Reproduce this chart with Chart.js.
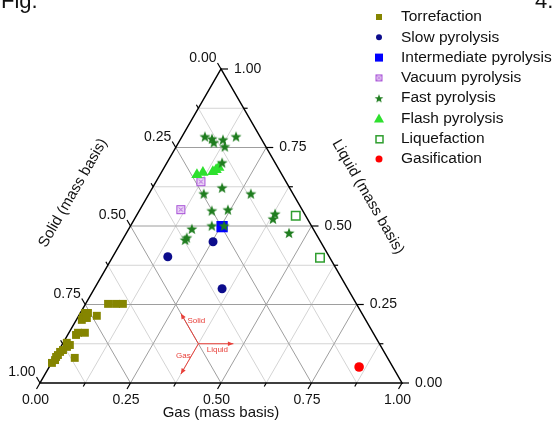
<!DOCTYPE html>
<html>
<head>
<meta charset="utf-8">
<script src="https://cdn.jsdelivr.net/npm/chart.js@4.4.1/dist/chart.umd.min.js"></script>
<style>
body { margin: 0; background: #fff; }
canvas { display: block; }
</style>
</head>
<body>
<canvas id="myChart" width="553" height="431"></canvas>
<script>
// each point is [solid, liquid, gas] (mass fractions)
var torrefaction = [
    [0.686, 0.252, 0.062], [0.664, 0.252, 0.084], [0.645, 0.252, 0.103],
    [0.764, 0.223, 0.013], [0.756, 0.223, 0.021], [0.776, 0.211, 0.013],
    [0.784, 0.201, 0.015], [0.767, 0.207, 0.026], [0.736, 0.214, 0.050],
    [0.815, 0.160, 0.025], [0.796, 0.160, 0.044], [0.824, 0.153, 0.023],
    [0.857, 0.121, 0.022], [0.868, 0.115, 0.017], [0.884, 0.105, 0.011],
    [0.862, 0.128, 0.010], [0.895, 0.099, 0.006], [0.906, 0.089, 0.005],
    [0.914, 0.083, 0.003], [0.922, 0.073, 0.005], [0.935, 0.064, 0.001],
    [0.864, 0.080, 0.056]
];
var slowPyrolysis = [[0.446, 0.402, 0.152], [0.297, 0.450, 0.253], [0.347, 0.300, 0.353]];
var intermediatePyrolysis = [[0.248, 0.498, 0.254]];
var vacuumPyrolysis = [[0.235, 0.641, 0.124], [0.335, 0.552, 0.113]];
var fastPyrolysis = [
    [0.152, 0.785, 0.063], [0.136, 0.778, 0.086], [0.137, 0.766, 0.097],
    [0.107, 0.775, 0.118], [0.066, 0.785, 0.149], [0.113, 0.753, 0.134],
    [0.146, 0.702, 0.152], [0.186, 0.622, 0.192], [0.246, 0.603, 0.151],
    [0.116, 0.603, 0.281], [0.251, 0.549, 0.200], [0.205, 0.552, 0.243],
    [0.275, 0.501, 0.224], [0.241, 0.501, 0.258], [0.335, 0.491, 0.174],
    [0.363, 0.463, 0.174], [0.371, 0.456, 0.173], [0.081, 0.539, 0.380],
    [0.095, 0.523, 0.382], [0.073, 0.478, 0.449]
];
var flashPyrolysis = [[0.235, 0.663, 0.102], [0.215, 0.670, 0.115], [0.186, 0.673, 0.141], [0.174, 0.679, 0.147], [0.163, 0.686, 0.151]];
var liquefaction = [[0.027, 0.533, 0.440], [0.027, 0.399, 0.574]];
var gasification = [[0.093, 0.051, 0.856]];

var SERIES_NAMES = ['Torrefaction', 'Slow pyrolysis', 'Intermediate pyrolysis', 'Vacuum pyrolysis',
                    'Fast pyrolysis', 'Flash pyrolysis', 'Liquefaction', 'Gasification'];
var TICK_LABELS = ['0.00', '0.25', '0.50', '0.75', '1.00'];
var AXIS_TITLES = ['Solid (mass basis)', 'Liquid (mass basis)', 'Gas (mass basis)'];

var H = Math.sqrt(3) / 2;
var FONT = '"Liberation Sans", Arial, sans-serif';

function toXY(p) {
    var t = p[0] + p[1] + p[2];
    return { x: (p[2] + p[1] / 2) / t, y: p[1] * H / t };
}

function starCanvas(r, color) {
    var c = document.createElement('canvas');
    var size = Math.ceil(2 * r + 2);
    c.width = c.height = size;
    var g = c.getContext('2d');
    g.translate(size / 2, size / 2 + 0.5);
    g.beginPath();
    for (var i = 0; i < 10; i++) {
        var rr = i % 2 ? r * 0.42 : r;
        var a = -Math.PI / 2 + i * Math.PI / 5;
        g.lineTo(rr * Math.cos(a), rr * Math.sin(a));
    }
    g.closePath();
    g.fillStyle = color;
    g.fill();
    return c;
}

function vacuumCanvas(side) {
    var c = document.createElement('canvas');
    c.width = c.height = side + 2;
    var g = c.getContext('2d');
    g.fillStyle = '#ecd6f7';
    g.fillRect(1, 1, side, side);
    g.strokeStyle = '#a64fd6';
    g.lineWidth = 1;
    g.strokeRect(1.5, 1.5, side - 1, side - 1);
    var m = (side + 2) / 2;
    g.beginPath();
    g.moveTo(m - 2, m - 2); g.lineTo(m + 2, m + 2);
    g.moveTo(m + 2, m - 2); g.lineTo(m - 2, m + 2);
    g.stroke();
    return c;
}

var STAR = starCanvas(5.8, '#1f7d1f');
var STAR_SMALL = starCanvas(4.6, '#1f7d1f');
var VAC = vacuumCanvas(9);
var VAC_SMALL = vacuumCanvas(7);

var ternaryAxes = {
    id: 'ternaryAxes',
    beforeDatasetsDraw: function(chart) {
        var ctx = chart.ctx, xs = chart.scales.x, ys = chart.scales.y;
        function pt(s, l, g) {
            var c = toXY([s, l, g]);
            return { x: xs.getPixelForValue(c.x), y: ys.getPixelForValue(c.y) };
        }
        function line(a, b) {
            ctx.beginPath(); ctx.moveTo(a.x, a.y); ctx.lineTo(b.x, b.y); ctx.stroke();
        }
        ctx.save();
        ctx.lineWidth = 1;
        // minor grid, then major grid
        [1, 0].forEach(function(odd) {
            ctx.strokeStyle = odd ? '#d4d4d4' : '#9e9e9e';
            for (var k = 1; k < 8; k++) {
                if (k % 2 !== odd) continue;
                var v = k / 8;
                line(pt(1 - v, v, 0), pt(0, v, 1 - v));
                line(pt(1 - v, 0, v), pt(0, 1 - v, v));
                line(pt(v, 0, 1 - v), pt(v, 1 - v, 0));
            }
        });
        // triangle
        var S = pt(1, 0, 0), L = pt(0, 1, 0), G = pt(0, 0, 1);
        ctx.strokeStyle = '#000';
        ctx.lineWidth = 1.5;
        ctx.beginPath();
        ctx.moveTo(S.x, S.y); ctx.lineTo(G.x, G.y); ctx.lineTo(L.x, L.y); ctx.closePath();
        ctx.stroke();
        // ticks + labels
        ctx.lineWidth = 1.2;
        ctx.fillStyle = '#111';
        ctx.font = '14px ' + FONT;
        for (var k = 0; k <= 8; k++) {
            var v = k / 8, len = k % 2 ? 4 : 7, lab = k % 2 ? null : TICK_LABELS[k / 2];
            // gas (bottom)
            var p = pt(1 - v, 0, v), e = { x: p.x - 0.5 * len, y: p.y + H * len };
            line(p, e);
            if (lab) { ctx.textAlign = 'center'; ctx.textBaseline = 'top'; ctx.fillText(lab, e.x - 1, e.y + 4); }
            // solid (left)
            p = pt(v, 1 - v, 0); e = { x: p.x - 0.5 * len, y: p.y - H * len };
            line(p, e);
            if (lab) { ctx.textAlign = 'right'; ctx.textBaseline = 'middle'; ctx.fillText(lab, e.x - 1, e.y - 4.5); }
            // liquid (right)
            p = pt(0, v, 1 - v); e = { x: p.x + len, y: p.y };
            line(p, e);
            if (lab) { ctx.textAlign = 'left'; ctx.textBaseline = 'middle'; ctx.fillText(lab, p.x + 13, p.y); }
        }
        // axis titles
        ctx.font = '15px ' + FONT;
        ctx.textAlign = 'center';
        ctx.textBaseline = 'middle';
        ctx.fillText(AXIS_TITLES[2], (S.x + G.x) / 2, S.y + 30);
        ctx.save();
        ctx.translate(73, 193); ctx.rotate(-Math.PI / 3);
        ctx.fillText(AXIS_TITLES[0], 0, 0);
        ctx.restore();
        ctx.save();
        ctx.translate(368, 197); ctx.rotate(Math.PI / 3);
        ctx.fillText(AXIS_TITLES[1], 0, 0);
        ctx.restore();
        ctx.restore();
    },
    afterDraw: function(chart) {
        var ctx = chart.ctx, xs = chart.scales.x, ys = chart.scales.y;
        ctx.save();
        // reading-direction arrows
        var c = toXY([0.5, 0.125, 0.375]);
        var cx = xs.getPixelForValue(c.x), cy = ys.getPixelForValue(c.y);
        var red = '#e8403a', len = 35;
        ctx.strokeStyle = red; ctx.fillStyle = red; ctx.lineWidth = 1;
        [[-0.5, -H], [1, 0], [-0.5, H]].forEach(function(d) {
            var ex = cx + d[0] * len, ey = cy + d[1] * len;
            ctx.beginPath(); ctx.moveTo(cx, cy); ctx.lineTo(ex, ey); ctx.stroke();
            var a = Math.atan2(d[1], d[0]);
            ctx.beginPath();
            ctx.moveTo(ex, ey);
            ctx.lineTo(ex - 6 * Math.cos(a - 0.4), ey - 6 * Math.sin(a - 0.4));
            ctx.lineTo(ex - 6 * Math.cos(a + 0.4), ey - 6 * Math.sin(a + 0.4));
            ctx.closePath(); ctx.fill();
        });
        ctx.font = '8px ' + FONT;
        ctx.textBaseline = 'middle';
        ctx.textAlign = 'center';
        ctx.fillText('Solid', cx - 2, cy - 23);
        ctx.fillText('Liquid', cx + 19, cy + 6);
        ctx.fillText('Gas', cx - 15, cy + 12);

        // legend
        var lx = 379, tx = 401, y0 = 17, dy = 20.3;
        ctx.font = '15.5px ' + FONT;
        ctx.textAlign = 'left';
        for (var i = 0; i < SERIES_NAMES.length; i++) {
            var y = y0 + i * dy;
            ctx.lineWidth = 1;
            if (i === 0) { ctx.fillStyle = '#858500'; ctx.fillRect(lx - 3, y - 3, 6, 6); }
            if (i === 1) { ctx.fillStyle = '#0c0c8c'; ctx.beginPath(); ctx.arc(lx, y, 3, 0, 2 * Math.PI); ctx.fill(); }
            if (i === 2) { ctx.fillStyle = '#0000ff'; ctx.fillRect(lx - 4, y - 4, 8, 8); }
            if (i === 3) { ctx.drawImage(VAC_SMALL, lx - 4.5, y - 4.5); }
            if (i === 4) { ctx.drawImage(STAR_SMALL, lx - STAR_SMALL.width / 2, y - STAR_SMALL.height / 2); }
            if (i === 5) {
                ctx.fillStyle = '#2ee02e'; ctx.beginPath();
                ctx.moveTo(lx, y - 5); ctx.lineTo(lx + 5, y + 4); ctx.lineTo(lx - 5, y + 4); ctx.closePath(); ctx.fill();
            }
            if (i === 6) { ctx.strokeStyle = '#2f9e2f'; ctx.lineWidth = 1.5; ctx.strokeRect(lx - 3, y - 3, 7, 7); }
            if (i === 7) { ctx.fillStyle = '#ff0000'; ctx.beginPath(); ctx.arc(lx, y, 3.5, 0, 2 * Math.PI); ctx.fill(); }
            ctx.fillStyle = '#111';
            ctx.fillText(SERIES_NAMES[i], tx, y);
        }
        // cropped caption text from the page
        ctx.font = '22px ' + FONT;
        ctx.textBaseline = 'alphabetic';
        ctx.fillText('Fig.', 1, 8);
        ctx.fillText('4.', 535, 8);
        ctx.restore();
    }
};

var ctx = document.getElementById('myChart').getContext('2d');
var myChart = new Chart(ctx, {
    type: 'scatter',
    data: {
        datasets: [
            { label: SERIES_NAMES[0], data: torrefaction.map(toXY), pointStyle: 'rect', pointRadius: 5.6,
              backgroundColor: '#858500', borderColor: '#858500', borderWidth: 0, order: 7 },
            { label: SERIES_NAMES[1], data: slowPyrolysis.map(toXY), pointStyle: 'circle', pointRadius: 4.5,
              backgroundColor: '#0c0c8c', borderColor: '#0c0c8c', borderWidth: 0, order: 6 },
            { label: SERIES_NAMES[2], data: intermediatePyrolysis.map(toXY), pointStyle: 'rect', pointRadius: 8,
              backgroundColor: '#0000ff', borderColor: '#0000ff', borderWidth: 0, order: 5 },
            { label: SERIES_NAMES[3], data: vacuumPyrolysis.map(toXY), pointStyle: VAC, pointRadius: 5, order: 4 },
            { label: SERIES_NAMES[4], data: fastPyrolysis.map(toXY), pointStyle: STAR, pointRadius: 6, order: 0 },
            { label: SERIES_NAMES[5], data: flashPyrolysis.map(toXY), pointStyle: 'triangle', pointRadius: 6.5,
              backgroundColor: '#2ee02e', borderColor: '#2ee02e', borderWidth: 0, order: 3 },
            { label: SERIES_NAMES[6], data: liquefaction.map(toXY), pointStyle: 'rect', pointRadius: 6,
              backgroundColor: '#ffffff', borderColor: '#2f9e2f', borderWidth: 1.5, order: 2 },
            { label: SERIES_NAMES[7], data: gasification.map(toXY), pointStyle: 'circle', pointRadius: 4.8,
              backgroundColor: '#ff0000', borderColor: '#ff0000', borderWidth: 0, order: 1 }
        ]
    },
    options: {
        responsive: false,
        animation: false,
        devicePixelRatio: 1,
        events: [],
        layout: { padding: { left: 40, right: 151, top: 69, bottom: 48 } },
        scales: {
            x: { type: 'linear', min: 0, max: 1, display: false },
            y: { type: 'linear', min: 0, max: H, display: false }
        },
        plugins: { legend: { display: false }, tooltip: { enabled: false } },
        elements: { point: { hoverRadius: 0 } },
        clip: false
    },
    plugins: [ternaryAxes]
});
</script>
</body>
</html>
